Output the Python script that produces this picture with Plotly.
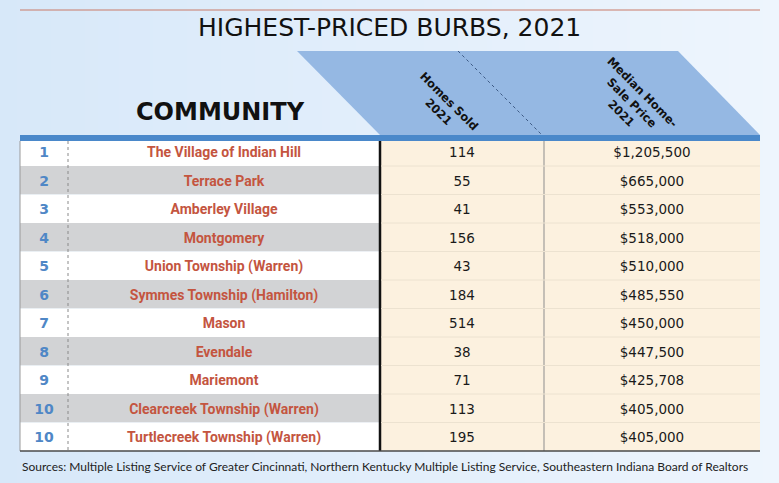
import plotly.graph_objects as go

# data
ranks = ["1", "2", "3", "4", "5", "6", "7", "8", "9", "10", "10"]
communities = [
    "The Village of Indian Hill", "Terrace Park", "Amberley Village", "Montgomery",
    "Union Township (Warren)", "Symmes Township (Hamilton)", "Mason", "Evendale",
    "Mariemont", "Clearcreek Township (Warren)", "Turtlecreek Township (Warren)",
]
homes_sold = [114, 55, 41, 156, 43, 184, 514, 38, 71, 113, 195]
median_price = [1205500, 665000, 553000, 518000, 510000, 485550,
                450000, 447500, 425708, 405000, 405000]

title = "HIGHEST-PRICED BURBS, 2021"
col_title = "COMMUNITY"
head_sold = "Homes Sold<br>2021"
head_price = "Median Home-<br>Sale Price<br>2021"
source = ("Sources: Multiple Listing Service of Greater Cincinnati, Northern Kentucky "
          "Multiple Listing Service, Southeastern Indiana Board of Realtors")

# layout (pixel units)
W, H = 779, 483
edges = [20, 68, 380, 544, 760]
top, row_h = 137.5, 28.5
n = len(communities)
ys = [top + (i + 0.5) * row_h for i in range(n)]
text_ys = [y + 2 for y in ys]   # plotly text sits a touch high
bottom = top + n * row_h
centers = [(edges[k] + edges[k + 1]) / 2 for k in range(4)]

fig = go.Figure()

# background gradient (heatmaps sit under bars)
fig.add_trace(go.Heatmap(
    z=[[0, 1], [0, 1]], x=[0, W], y=[0, H], zsmooth="best", showscale=False,
    colorscale=[[0, "#d7e8f9"], [1, "#eef5fd"]], hoverinfo="skip",
))

# row bands
fig.add_trace(go.Bar(
    y=ys, x=[edges[2] - edges[0]] * n, base=edges[0], orientation="h", width=row_h,
    marker=dict(color=["#ffffff" if i % 2 == 0 else "#d2d3d5" for i in range(n)],
                line=dict(width=0)),
    hoverinfo="skip",
))
fig.add_trace(go.Bar(
    y=ys, x=[edges[4] - edges[2]] * n, base=edges[2], orientation="h", width=row_h,
    marker=dict(color="#fcf1df", line=dict(width=0)), hoverinfo="skip",
))

# slanted header
fig.add_trace(go.Scatter(
    x=[297, 678, 760, 380, 297], y=[51, 51, 135, 135, 51], mode="lines", fill="toself",
    fillcolor="#95b8e3", line=dict(width=0), hoverinfo="skip",
))

# cell texts
fig.add_trace(go.Scatter(
    x=[centers[0]] * n, y=text_ys, mode="text", text=ranks, hoverinfo="skip",
    textfont=dict(family="DejaVu Sans", size=14, color="#4f87c6", weight="bold"),
))
fig.add_trace(go.Scatter(
    x=[centers[1]] * n, y=text_ys, mode="text", text=communities, hoverinfo="skip",
    textfont=dict(family="Roboto", size=14, color="#c4553f", weight="bold"),
))
fig.add_trace(go.Scatter(
    x=[centers[2]] * n, y=text_ys, mode="text", text=[str(v) for v in homes_sold],
    hoverinfo="skip",
    textfont=dict(family="DejaVu Sans", size=13.5, color="#1a1a1a"),
))
fig.add_trace(go.Scatter(
    x=[centers[3]] * n, y=text_ys, mode="text", text=[f"${v:,}" for v in median_price],
    hoverinfo="skip",
    textfont=dict(family="DejaVu Sans", size=13.5, color="#1a1a1a"),
))

# lines
line_shapes = [
    dict(x0=20, x1=760, y0=10, y1=10, line=dict(color="#c97a68", width=1)),
    dict(x0=458, x1=542, y0=51, y1=135, line=dict(color="#3d5a85", width=1, dash="dot")),
    dict(x0=20, x1=760, y0=138, y1=138, line=dict(color="#4a88ca", width=6)),
    dict(x0=20, x1=20, y0=141, y1=bottom, line=dict(color="#9a9a9a", width=1)),
    dict(x0=68, x1=68, y0=141, y1=bottom, line=dict(color="#8a8a8a", width=1, dash="dot")),
    dict(x0=544, x1=544, y0=141, y1=bottom, line=dict(color="#8d8d8d", width=1)),
    dict(x0=380, x1=380, y0=141, y1=bottom, line=dict(color="#111111", width=2.5)),
    dict(x0=20, x1=760, y0=bottom, y1=bottom, line=dict(color="#4a4a4a", width=1.5)),
]
for i in range(1, n):
    yb = top + i * row_h
    line_shapes.append(dict(x0=381, x1=760, y0=yb, y1=yb, line=dict(color="#ece2d0", width=1)))
for s in line_shapes:
    fig.add_shape(type="line", xref="x", yref="y", layer="above", **s)

fig.add_annotation(x=389, y=27, text=title, showarrow=False, xref="x", yref="y",
                   font=dict(family="DejaVu Sans", size=25, color="#111111"))
fig.add_annotation(x=220, y=112, text=col_title, showarrow=False, xref="x", yref="y",
                   font=dict(family="DejaVu Sans", size=24, color="#111111", weight="bold"))
fig.add_annotation(x=444, y=106, text=head_sold, showarrow=False, textangle=45,
                   xref="x", yref="y",
                   font=dict(family="DejaVu Sans", size=11.5, color="#111111", weight="bold"))
fig.add_annotation(x=632, y=103, text=head_price, showarrow=False, textangle=45,
                   xref="x", yref="y",
                   font=dict(family="DejaVu Sans", size=11.5, color="#111111", weight="bold"))
fig.add_annotation(x=20, y=466, text=source, showarrow=False, xanchor="left",
                   xref="x", yref="y",
                   font=dict(family="Lato", size=12, color="#222222"))

fig.update_xaxes(range=[0, W], visible=False, fixedrange=True)
fig.update_yaxes(range=[H, 0], visible=False, fixedrange=True)
fig.update_layout(
    width=W, height=H, margin=dict(l=0, r=0, t=0, b=0),
    showlegend=False, barmode="overlay",
    plot_bgcolor="#e4f0fb", paper_bgcolor="#e4f0fb",
)

# page body has a default 8px margin; drop it so the figure fills the window
fig.write_html("out.html", config={"displayModeBar": False},
               post_script="document.body.style.margin='0';")
